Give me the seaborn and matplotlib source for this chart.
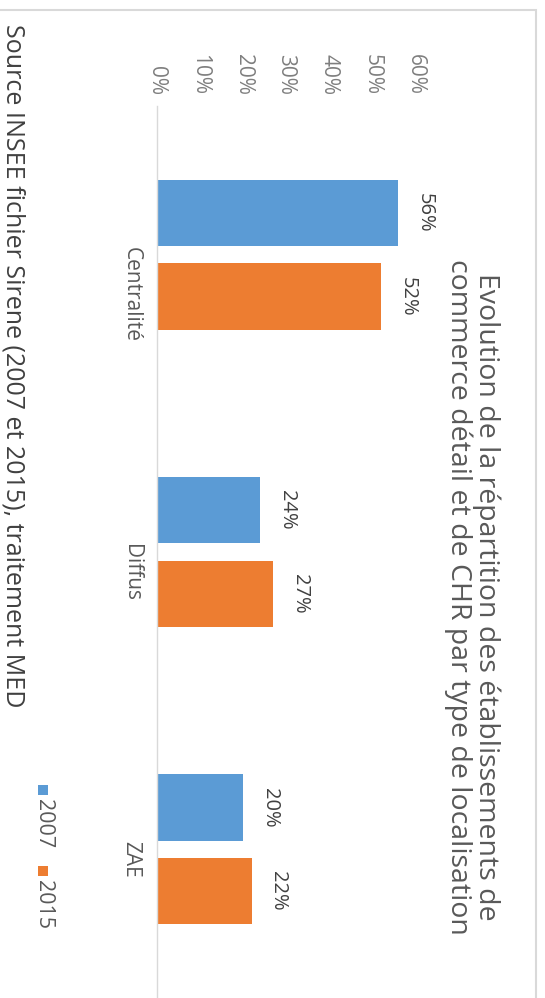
import matplotlib
matplotlib.use("Agg")
import matplotlib.pyplot as plt
from matplotlib.patches import Rectangle
import pandas as pd
import seaborn as sns

# Données
CATEGORIES = ["Centralité", "Diffus", "ZAE"]
YEARS = ["2007", "2015"]
VALUES_2007 = [0.56, 0.24, 0.20]
VALUES_2015 = [0.52, 0.27, 0.22]
X_TICKS = [0, 0.1, 0.2, 0.3, 0.4, 0.5, 0.6]
X_TICK_LABELS = ["0%", "10%", "20%", "30%", "40%", "50%", "60%"]
COLORS = {"2007": "#5B9BD5", "2015": "#ED7D31"}

TITLE = ("Evolution de la répartition des établissements de\n"
         "commerce détail et de CHR par type de localisation")
SOURCE = "Source INSEE fichier Sirene (2007 et 2015), traitement MED"

W, H = 545, 998


def px(x, y):
    """pixel (depuis le haut-gauche) -> coordonnées figure"""
    return x / W, 1 - y / H


df = pd.DataFrame({
    "Localisation": CATEGORIES * 2,
    "Année": [YEARS[0]] * len(CATEGORIES) + [YEARS[1]] * len(CATEGORIES),
    "Part": VALUES_2007 + VALUES_2015,
})

sns.set_style("white")
plt.rcParams["font.family"] = ["Open Sans", "DejaVu Sans"]

fig = plt.figure(figsize=(W / 100, H / 100), dpi=100)
ax = fig.add_axes([157 / W, 0, (415 - 157) / W, 892 / H])

sns.barplot(
    data=df,
    x="Part",
    y="Localisation",
    hue="Année",
    hue_order=YEARS,
    order=CATEGORIES,
    orient="h",
    palette=COLORS,
    saturation=1,
    width=0.564,
    gap=0.21,
    linewidth=0,
    legend=False,
    ax=ax,
)

ax.set_xlim(0, 0.6)
ax.set_ylim(len(CATEGORIES) - 0.5, -0.5)
ax.set_xticks(X_TICKS)
ax.set_xticklabels(X_TICK_LABELS)
ax.xaxis.tick_top()
ax.tick_params(axis="x", length=0, pad=8, labelrotation=-90,
               labelsize=15, labelcolor="#7F7F7F")
ax.tick_params(axis="y", length=0, pad=11, labelrotation=-90,
               labelsize=15, labelcolor="#595959")
ax.set_xlabel("")
ax.set_ylabel("")

for side in ["top", "right", "bottom"]:
    ax.spines[side].set_visible(False)
ax.spines["left"].set_color("#D9D9D9")
ax.spines["left"].set_linewidth(1)

# étiquettes de données
for container in ax.containers:
    ax.bar_label(container, fmt="{:.0%}", padding=12, rotation=-90,
                 fontsize=14.5, color="#404040", clip_on=False)

# titre
tx, ty = px(472, 597)
fig.text(tx, ty, TITLE, rotation=-90, ha="center", va="center",
         multialignment="center", fontsize=20.5, color="#595959",
         linespacing=1.0)

# source
sx, sy = px(0, 24)
fig.text(sx, sy, SOURCE, rotation=-90, ha="left", va="top",
         fontsize=18, color="#404040")

# légende
legend_pos = {"2007": 785, "2015": 866}
for year in YEARS:
    y0 = legend_pos[year]
    rx, ry = px(38, y0 + 10)
    fig.add_artist(Rectangle((rx, ry), 10 / W, 10 / H, transform=fig.transFigure,
                             facecolor=COLORS[year], edgecolor="none"))
    lx, ly = px(43, y0 + 14)
    fig.text(lx, ly, year, rotation=-90, ha="center", va="top",
             fontsize=15.5, color="#595959")

# cadre du graphique
fx0, fy0 = px(-10, 1010)
fx1, fy1 = px(536, 10)
fig.add_artist(Rectangle((fx0, fy0), fx1 - fx0, fy1 - fy0,
                         transform=fig.transFigure, fill=False,
                         edgecolor="#D9D9D9", linewidth=1.5))

fig.savefig("out.png", dpi=100)
